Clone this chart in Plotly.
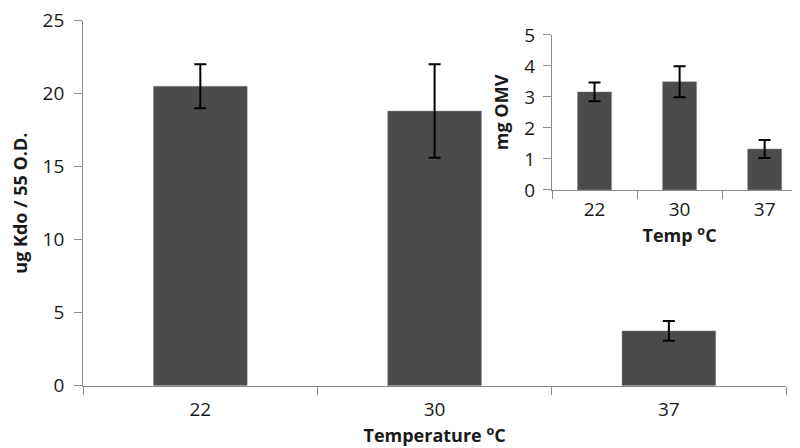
import plotly.graph_objects as go

categories = ["22", "30", "37"]
kdo_values = [20.5, 18.8, 3.75]
kdo_errors = [1.5, 3.2, 0.67]
omv_values = [3.16, 3.49, 1.32]
omv_errors = [0.3, 0.5, 0.29]
main_yticks = [0, 5, 10, 15, 20, 25]
inset_yticks = [0, 1, 2, 3, 4, 5]

BAR = "#4b4b4b"
AX = "#8c8c8c"
FONT = "Open Sans"
TXT = "#1a1a1a"

fig = go.Figure()
fig.add_trace(go.Bar(
    x=categories, y=kdo_values, marker=dict(color=BAR, line=dict(color="#8a8a8a", width=0.5)),
    error_y=dict(type="data", array=kdo_errors, color="black", thickness=2, width=6),
    xaxis="x", yaxis="y", showlegend=False))
fig.add_trace(go.Bar(
    x=categories, y=omv_values, marker=dict(color=BAR, line=dict(color="#8a8a8a", width=0.5)),
    error_y=dict(type="data", array=omv_errors, color="black", thickness=2, width=6),
    xaxis="x2", yaxis="y2", showlegend=False))

axis_common = dict(showline=True, linecolor=AX, linewidth=1.3, ticks="outside", ticklen=8,
                   tickcolor=AX, showgrid=False, zeroline=False, ticklabeloverflow="allow",
                   tickfont=dict(family=FONT, size=19, color=TXT))
title_font = dict(family=FONT, size=18, color=TXT, weight="bold")

fig.update_layout(
    width=800, height=448, margin=dict(l=0, r=0, t=0, b=0),
    paper_bgcolor="white", plot_bgcolor="rgba(0,0,0,0)",
    bargap=0.6,
    xaxis=dict(domain=[0.094, 0.9725], anchor="y", type="category", tickson="boundaries",
               title=dict(text="Temperature <sup>o</sup>C", standoff=4, font=title_font),
               automargin=False, ticklabelstandoff=6, **axis_common),
    yaxis=dict(domain=[0.157, 0.972], anchor="x", range=[0, 25], tickvals=main_yticks,
               title=dict(text="ug Kdo / 55 O.D.", standoff=20, font=title_font),
               automargin=False, ticklabelstandoff=6, **axis_common),
    xaxis2=dict(domain=[0.68, 0.999], anchor="y2", type="category", tickson="boundaries",
                title=dict(text="Temp <sup>o</sup>C", standoff=0, font=title_font),
                automargin=False, ticklabelstandoff=2, **axis_common),
    yaxis2=dict(domain=[0.594, 0.94], anchor="x2", range=[0, 5], tickvals=inset_yticks,
                title=dict(text="mg OMV", standoff=10, font=title_font),
                automargin=False, ticklabelstandoff=4, **axis_common),
)

fig.write_html("out.html")
